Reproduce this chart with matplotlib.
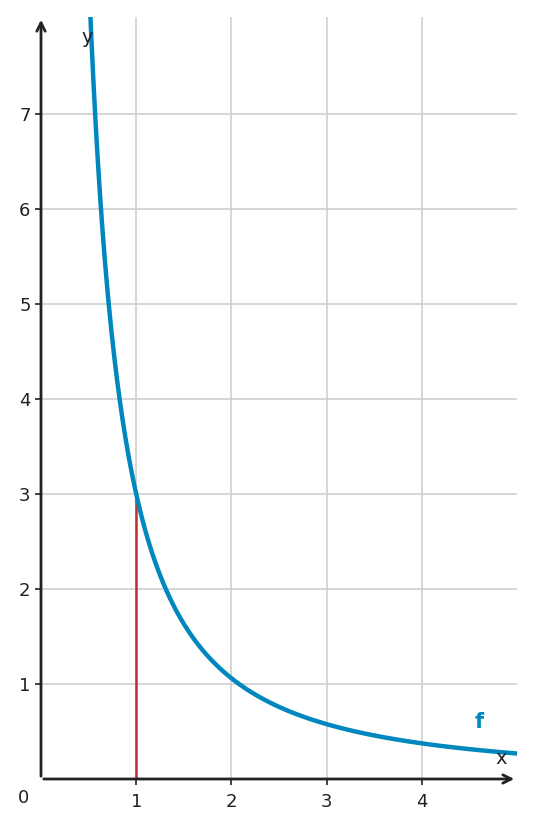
import numpy as np
import matplotlib
matplotlib.use("Agg")
import matplotlib.pyplot as plt

coef = 3.0
expo = -1.5
xticks = [1, 2, 3, 4]
yticks = [1, 2, 3, 4, 5, 6, 7]
mark_x = 1

fig = plt.figure(figsize=(5.35, 8.27), dpi=100)
ax = fig.add_axes([41/535, 48/827, 476/535, 762/827])
ax.set_xlim(0, 5.0)
ax.set_ylim(0, 8.02)
for s in ax.spines.values():
    s.set_visible(False)
ax.grid(True, color="#d0d0d0", lw=1.2)
ax.set_xticks(xticks)
ax.set_yticks(yticks)
ax.tick_params(colors="#222222", labelsize=13, length=4, width=1.2)
ax.tick_params(axis="x", pad=6)
ax.set_axisbelow(True)

xs = np.linspace(0.5, 5.0, 600)
ax.plot(xs, coef * xs**expo, color="#0087be", lw=3.2, clip_on=True, zorder=3)
ax.plot([mark_x, mark_x], [0, coef * mark_x**expo], color="#c0302f", lw=1.8, zorder=2)

ax.annotate("", xy=(5.0, 0), xytext=(0, 0), xycoords="data",
            arrowprops=dict(arrowstyle="->", color="#222222", lw=2, mutation_scale=15), annotation_clip=False)
ax.annotate("", xy=(0, 8.02), xytext=(0, 0), xycoords="data",
            arrowprops=dict(arrowstyle="->", color="#222222", lw=2, mutation_scale=15), annotation_clip=False)

ax.text(-0.18, -0.2, "0", fontsize=13, color="#222222", ha="center", va="center")
ax.text(0.49, 7.8, "y", fontsize=14, color="#222222", ha="center", va="center")
ax.text(4.83, 0.22, "x", fontsize=14, color="#222222", ha="center", va="center")
ax.text(4.6, 0.6, "f", fontsize=15, color="#0087be", fontweight="bold", ha="center", va="center")

fig.savefig("out.png", dpi=100)
